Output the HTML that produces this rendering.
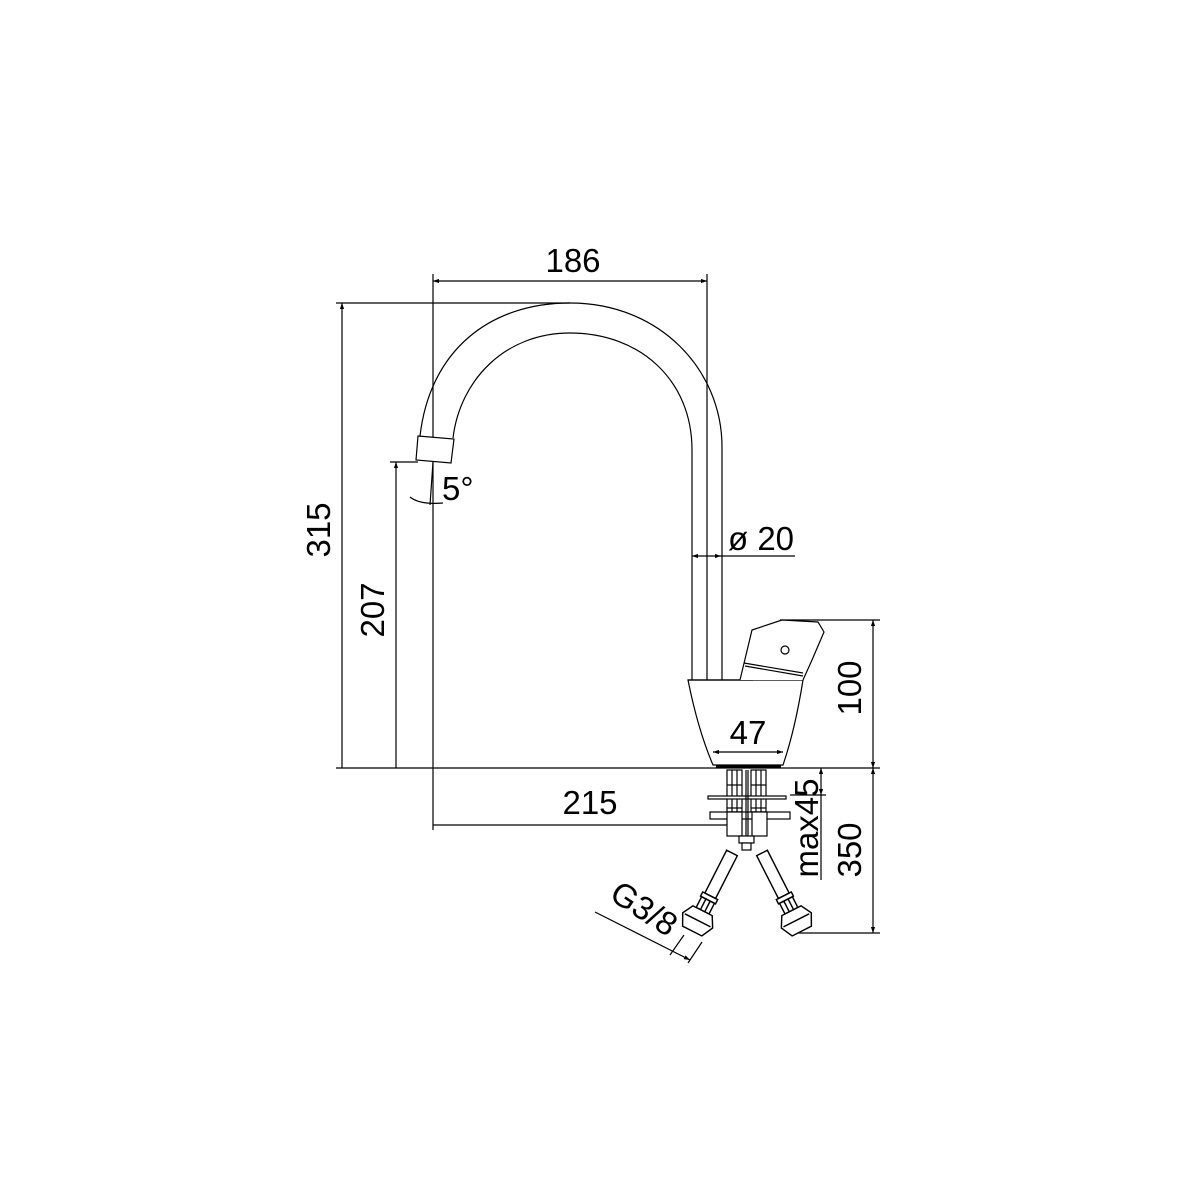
<!DOCTYPE html>
<html><head><style>html,body{margin:0;padding:0;background:#fff}svg{display:block}</style></head>
<body>
<svg width="1200" height="1200" viewBox="0 0 1200 1200" xmlns="http://www.w3.org/2000/svg" font-family="Liberation Sans, sans-serif">
<defs>
<marker id="a" viewBox="0 0 10 10" refX="10" refY="5" markerWidth="12" markerHeight="6" orient="auto-start-reverse" markerUnits="userSpaceOnUse"><path d="M0,1.5 L10,5 L0,8.5 z" fill="#000"/></marker>
</defs>
<g stroke="#000" stroke-width="1.2" fill="none">
<line x1="433" y1="274" x2="433" y2="830"/>
<line x1="707" y1="274" x2="707" y2="680"/>
<line x1="336" y1="303" x2="570" y2="303"/>
<line x1="390" y1="462" x2="418" y2="462"/>
<line x1="336" y1="768" x2="880" y2="768"/>
<line x1="780" y1="620" x2="880" y2="620"/>
<line x1="795" y1="933" x2="880" y2="933"/>
<line x1="790" y1="795" x2="826" y2="795"/>
<line x1="433" y1="281" x2="707" y2="281" marker-start="url(#a)" marker-end="url(#a)"/>
<line x1="342" y1="768" x2="342" y2="303" marker-end="url(#a)"/>
<line x1="396" y1="768" x2="396" y2="462" marker-end="url(#a)"/>
<line x1="873" y1="620" x2="873" y2="768" marker-start="url(#a)" marker-end="url(#a)"/>
<line x1="873" y1="768" x2="873" y2="933" marker-start="url(#a)" marker-end="url(#a)"/>
<line x1="821" y1="768" x2="821" y2="795" marker-start="url(#a)" marker-end="url(#a)"/>
<line x1="821" y1="795" x2="821" y2="880"/>
<line x1="433" y1="825" x2="742" y2="825" marker-end="url(#a)"/>
<line x1="692" y1="556" x2="721" y2="556" marker-start="url(#a)" marker-end="url(#a)"/>
<line x1="721" y1="556" x2="795" y2="556"/>
<line x1="433" y1="462" x2="430" y2="505"/>
<path d="M410,497 Q420,505 443,503"/>
<path d="M420,436 C430,350 490,303 570,303 C660,303 722,370 722,447 L722,680"/>
<path d="M453,438 C460,380 505,333 570,333 C640,333 692,380 692,450 L692,680"/>
<path d="M418,436 L454,439 L451,463 L416,460 Z" fill="#fff"/>
<path d="M688,680 L803,680 Q795,730 783,765 L713,765 Q698,730 688,680 Z" fill="#fff"/>
<line x1="688" y1="680" x2="753" y2="680"/>
<path d="M740,680 L752,630 L782,620 L818,622 L824,632 L812,660 L803,680" fill="#fff"/>
<line x1="744" y1="663" x2="803" y2="673"/>
<line x1="745" y1="666" x2="803" y2="676"/>
<circle cx="785" cy="650" r="4"/>
<line x1="716" y1="766" x2="781" y2="766" stroke-width="3"/>
<line x1="713" y1="752" x2="783" y2="752" marker-start="url(#a)" marker-end="url(#a)"/>
<rect x="727" y="770" width="15" height="42"/>
<rect x="751" y="770" width="15" height="42"/>
<line x1="727" y1="785" x2="742" y2="785"/><line x1="751" y1="785" x2="766" y2="785"/>
<line x1="727" y1="808" x2="742" y2="808"/><line x1="751" y1="808" x2="766" y2="808"/>
<line x1="732" y1="770" x2="732" y2="812"/><line x1="737" y1="770" x2="737" y2="812"/>
<line x1="756" y1="770" x2="756" y2="812"/><line x1="761" y1="770" x2="761" y2="812"/>
<rect x="708" y="796" width="78" height="3" fill="#fff"/>
<rect x="710" y="812" width="80" height="7" fill="#fff"/>
<rect x="727" y="812" width="15" height="24" fill="#fff"/>
<rect x="752" y="812" width="15" height="24" fill="#fff"/>
<line x1="746" y1="770" x2="746" y2="840"/>
<line x1="748" y1="770" x2="748" y2="840"/>
<rect x="739" y="836" width="15" height="7" fill="#fff"/>
<rect x="742" y="843" width="9" height="7" fill="#fff"/>
<g transform="translate(732,853) rotate(27) scale(1.2)">
<rect x="-5" y="0" width="10" height="40"/>
<rect x="-7" y="40" width="14" height="4"/>
<rect x="-6" y="44" width="12" height="10"/>
<line x1="-2" y1="44" x2="-2" y2="54"/><line x1="2" y1="44" x2="2" y2="54"/>
<path d="M-9,54 L9,54 L14,63 L9,73 L-9,73 L-14,63 Z" fill="#fff"/>
<line x1="-12" y1="63" x2="12" y2="63"/>
</g>
<g transform="translate(762,853) rotate(-27) scale(1.2)">
<rect x="-5" y="0" width="10" height="40"/>
<rect x="-7" y="40" width="14" height="4"/>
<rect x="-6" y="44" width="12" height="10"/>
<line x1="-2" y1="44" x2="-2" y2="54"/><line x1="2" y1="44" x2="2" y2="54"/>
<path d="M-9,54 L9,54 L14,63 L9,73 L-9,73 L-14,63 Z" fill="#fff"/>
<line x1="-12" y1="63" x2="12" y2="63"/>
</g>
<line x1="595" y1="912" x2="690" y2="960" marker-end="url(#a)"/>
<line x1="684" y1="935" x2="670" y2="955"/>
<line x1="702" y1="942" x2="688" y2="963"/>
</g>
<g fill="#000" font-size="33">
<text x="573" y="272" text-anchor="middle">186</text>
<text transform="translate(330,530) rotate(-90)" text-anchor="middle">315</text>
<text transform="translate(384,610) rotate(-90)" text-anchor="middle">207</text>
<text x="442" y="500">5°</text>
<text x="728" y="550">ø 20</text>
<text transform="translate(861,688) rotate(-90)" text-anchor="middle">100</text>
<text x="748" y="744" text-anchor="middle">47</text>
<text x="590" y="814" text-anchor="middle">215</text>
<text transform="translate(818,828) rotate(-90)" text-anchor="middle">max45</text>
<text transform="translate(861,850) rotate(-90)" text-anchor="middle">350</text>
<text transform="translate(638,918) rotate(33)" text-anchor="middle">G3/8</text>
</g>
</svg>
</body></html>
